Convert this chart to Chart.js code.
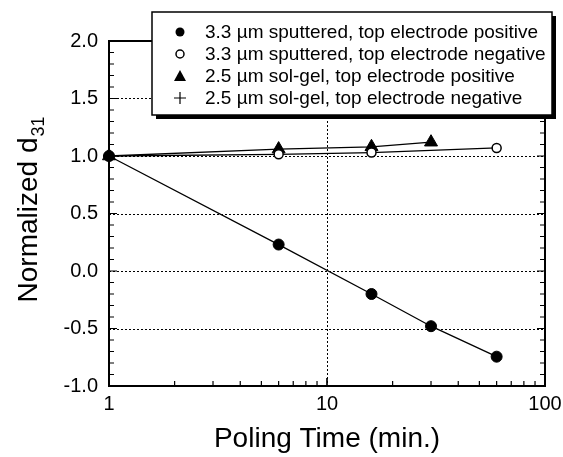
<!DOCTYPE html>
<html>
<head>
<meta charset="utf-8">
<script src="https://cdn.jsdelivr.net/npm/chart.js@4/dist/chart.umd.min.js"></script>
<style>
  html, body { margin: 0; padding: 0; background: #fff; }
  #wrap { width: 563px; height: 457px; position: relative; }
</style>
</head>
<body>
<div id="wrap"><canvas id="c" width="563" height="457"></canvas></div>
<script>
// ---- data ----
const timeSputPos = [1, 6, 16, 30, 60];
const sputPos     = [1.0, 0.23, -0.20, -0.48, -0.745];
const timeSputNeg = [1, 6, 16, 60];
const sputNeg     = [1.0, 1.015, 1.03, 1.07];
const timeSolPos  = [1, 6, 16, 30];
const solPos      = [1.0, 1.06, 1.08, 1.12];
const timeSolNeg  = [1];
const solNeg      = [1.0];

const seriesLabels = [
  '3.3 \u00b5m sputtered, top electrode positive',
  '3.3 \u00b5m sputtered, top electrode negative',
  '2.5 \u00b5m sol-gel, top electrode positive',
  '2.5 \u00b5m sol-gel, top electrode negative'
];
const xTickLabels = [1, 10, 100];
const yMajorTicks = [-1.0, -0.5, 0.0, 0.5, 1.0, 1.5, 2.0];
const xTitle = 'Poling Time (min.)';
const yTitle = 'Normalized d';
const yTitleSub = '31';

const FONT = '"Liberation Sans", Arial, Helvetica, sans-serif';

function pts(xs, ys) { return xs.map((x, i) => ({ x: x, y: ys[i] })); }

const framePlugin = {
  id: 'frame',
  beforeDatasetsDraw(chart) {
    const ctx = chart.ctx, a = chart.chartArea;
    const xs = chart.scales.x, ys = chart.scales.y;
    ctx.save();
    ctx.strokeStyle = '#000';
    ctx.lineWidth = 1;
    ctx.setLineDash([2, 2]);
    yMajorTicks.forEach(v => {
      if (v <= -1 || v >= 2) return;
      const y = Math.round(ys.getPixelForValue(v)) + 0.5;
      ctx.beginPath(); ctx.moveTo(a.left, y); ctx.lineTo(a.right, y); ctx.stroke();
    });
    xTickLabels.forEach(v => {
      if (v <= 1 || v >= 100) return;
      const x = Math.round(xs.getPixelForValue(v)) + 0.5;
      ctx.beginPath(); ctx.moveTo(x, a.top); ctx.lineTo(x, a.bottom); ctx.stroke();
    });
    ctx.restore();
  },
  afterDatasetsDraw(chart) {
    const ctx = chart.ctx, a = chart.chartArea;
    const xs = chart.scales.x, ys = chart.scales.y;
    ctx.save();
    ctx.setLineDash([]);
    ctx.strokeStyle = '#000';
    // ticks
    ctx.lineWidth = 1.2;
    for (let k = -10; k <= 20; k++) {
      const v = k / 10;
      const y = ys.getPixelForValue(v);
      const len = (k % 5 === 0) ? 8 : 5;
      ctx.beginPath();
      ctx.moveTo(a.left, y); ctx.lineTo(a.left + len, y);
      ctx.moveTo(a.right, y); ctx.lineTo(a.right - len, y);
      ctx.stroke();
    }
    [1, 10].forEach(dec => {
      for (let m = 1; m <= 10; m++) {
        const v = dec * m;
        const x = xs.getPixelForValue(v);
        const len = (m === 1 || m === 10) ? 8 : 5;
        ctx.beginPath();
        ctx.moveTo(x, a.bottom); ctx.lineTo(x, a.bottom - len);
        ctx.moveTo(x, a.top); ctx.lineTo(x, a.top + len);
        ctx.stroke();
      }
    });
    // frame
    ctx.lineWidth = 2;
    ctx.strokeRect(a.left, a.top, a.right - a.left, a.bottom - a.top);

    // axis titles
    ctx.fillStyle = '#000';
    ctx.textBaseline = 'alphabetic';
    ctx.textAlign = 'center';
    ctx.font = '28px ' + FONT;
    ctx.fillText(xTitle, (a.left + a.right) / 2, 447);

    ctx.save();
    ctx.translate(37, 210);
    ctx.rotate(-Math.PI / 2);
    ctx.textAlign = 'left';
    ctx.font = '28px ' + FONT;
    const w1 = ctx.measureText(yTitle).width;
    ctx.font = '18px ' + FONT;
    const w2 = ctx.measureText(yTitleSub).width;
    const start = -(w1 + w2) / 2;
    ctx.font = '28px ' + FONT;
    ctx.fillText(yTitle, start, 0);
    ctx.font = '18px ' + FONT;
    ctx.fillText(yTitleSub, start + w1 + 1, 7);
    ctx.restore();

    // legend box with shadow
    const bx = 152, by = 12, bw = 400, bh = 103;
    ctx.fillStyle = '#000';
    ctx.fillRect(bx + 4, by + 4, bw, bh);
    ctx.fillStyle = '#fff';
    ctx.fillRect(bx, by, bw, bh);
    ctx.lineWidth = 1.5;
    ctx.strokeStyle = '#000';
    ctx.strokeRect(bx, by, bw, bh);

    const rowY = [32, 54, 76, 98];
    const mx = 180, tx = 205;
    ctx.font = '19px ' + FONT;
    ctx.textAlign = 'left';
    ctx.textBaseline = 'middle';
    chart.data.datasets.forEach((ds, i) => {
      const y = rowY[i];
      ctx.fillStyle = '#000';
      ctx.fillText(ds.label, tx, y + 1);
      ctx.lineWidth = 1.5;
      ctx.beginPath();
      if (i === 0) {
        ctx.arc(mx, y, 4.5, 0, Math.PI * 2); ctx.fill();
      } else if (i === 1) {
        ctx.arc(mx, y, 4, 0, Math.PI * 2); ctx.stroke();
      } else if (i === 2) {
        ctx.moveTo(mx, y - 6); ctx.lineTo(mx + 6, y + 5); ctx.lineTo(mx - 6, y + 5); ctx.closePath(); ctx.fill();
      } else {
        ctx.lineWidth = 1.2;
        ctx.moveTo(mx - 6, y); ctx.lineTo(mx + 6, y);
        ctx.moveTo(mx, y - 6); ctx.lineTo(mx, y + 6); ctx.stroke();
      }
    });
    ctx.restore();
  }
};

const common = { borderColor: '#000', borderWidth: 1.3, showLine: true, tension: 0, clip: false, pointBorderColor: '#000' };

new Chart(document.getElementById('c'), {
  type: 'scatter',
  data: {
    datasets: [
      Object.assign({}, common, { label: seriesLabels[0], data: pts(timeSputPos, sputPos),
        pointStyle: 'circle', pointRadius: 5.5, pointBackgroundColor: '#000', pointBorderWidth: 1 }),
      Object.assign({}, common, { label: seriesLabels[1], data: pts(timeSputNeg, sputNeg),
        pointStyle: 'circle', pointRadius: 4.5, pointBackgroundColor: '#fff', pointBorderWidth: 1.5 }),
      Object.assign({}, common, { label: seriesLabels[2], data: pts(timeSolPos, solPos),
        pointStyle: 'triangle', pointRadius: 7.5, pointBackgroundColor: '#000', pointBorderWidth: 1 }),
      Object.assign({}, common, { label: seriesLabels[3], data: pts(timeSolNeg, solNeg),
        pointStyle: 'cross', pointRadius: 6, pointBackgroundColor: '#000', pointBorderWidth: 1.5 })
    ]
  },
  options: {
    responsive: false,
    animation: false,
    devicePixelRatio: 1,
    layout: { padding: { left: 0, right: 18, top: 41, bottom: 0 } },
    plugins: { legend: { display: false }, tooltip: { enabled: false } },
    scales: {
      x: {
        type: 'logarithmic', min: 1, max: 100,
        grid: { display: false, drawTicks: false },
        border: { display: false },
        afterFit(s) { s.height = 71; s.paddingLeft = 0; s.paddingRight = 0; },
        ticks: {
          autoSkip: false, maxRotation: 0, padding: 6, color: '#000',
          font: { family: FONT, size: 20 },
          callback: v => (xTickLabels.includes(v) ? String(v) : '')
        }
      },
      y: {
        min: -1, max: 2,
        grid: { display: false, drawTicks: false },
        border: { display: false },
        afterFit(s) { s.width = 109; s.paddingTop = 0; s.paddingBottom = 0; },
        ticks: {
          stepSize: 0.5, padding: 11, color: '#000',
          font: { family: FONT, size: 20 },
          callback: v => Number(v).toFixed(1)
        }
      }
    }
  },
  plugins: [framePlugin]
});
</script>
</body>
</html>
